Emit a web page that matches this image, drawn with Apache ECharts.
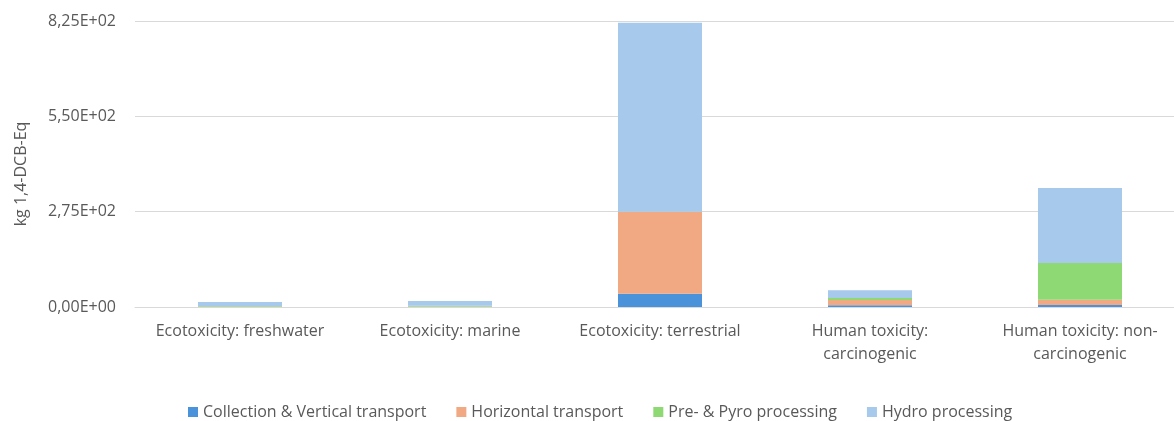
<!DOCTYPE html>
<html>
<head>
<meta charset="utf-8">
<script src="https://cdn.jsdelivr.net/npm/echarts@6/dist/echarts.min.js"></script>
<style>
  html, body { margin: 0; padding: 0; background: #fff; }
  #chart { width: 1174px; height: 421px; }
</style>
</head>
<body>
<div id="chart"></div>
<script>
// Impact categories (toxicity indicators)
const categories = [
  'Ecotoxicity: freshwater',
  'Ecotoxicity: marine',
  'Ecotoxicity: terrestrial',
  'Human toxicity:\ncarcinogenic',
  'Human toxicity: non-\ncarcinogenic'
];

// Contributions per process stage, kg 1,4-DCB-Eq
const collectionVertical = [0.5, 0.6, 38, 5, 6];
const horizontalTransport = [0.6, 0.7, 236, 15, 15];
const prePyroProcessing = [2, 2, 1, 6, 106];
const hydroProcessing = [11, 14, 545, 22, 216];

const seriesNames = [
  'Collection & Vertical transport',
  'Horizontal transport',
  'Pre- & Pyro processing',
  'Hydro processing'
];
const seriesColors = ['#4A92DA', '#F1A983', '#8ED973', '#A6C9EC'];
const seriesData = [collectionVertical, horizontalTransport, prePyroProcessing, hydroProcessing];

// Scientific notation with decimal comma, e.g. 8,25E+02
function sci(v) {
  const [m, e] = Number(v).toExponential(2).split('e');
  const exp = parseInt(e, 10);
  const sign = exp < 0 ? '-' : '+';
  const digits = String(Math.abs(exp)).padStart(2, '0');
  return m.replace('.', ',') + 'E' + sign + digits;
}

const fontFamily = '"Open Sans", "Liberation Sans", sans-serif';
const textColor = '#595959';
const chart = echarts.init(document.getElementById('chart'), null, { renderer: 'canvas' });

chart.setOption({
  animation: false,
  textStyle: { fontFamily: fontFamily },
  // the last category band runs slightly past the right edge of the canvas
  grid: {
    left: 135, width: 1050, top: 21, height: 286,
    containLabel: false, outerBoundsMode: 'none'
  },
  legend: {
    top: 404,
    left: 188,
    padding: 0,
    itemWidth: 10,
    itemHeight: 10,
    itemGap: 30,
    icon: 'rect',
    textStyle: { fontSize: 16, color: textColor, fontFamily: fontFamily },
    data: seriesNames
  },
  xAxis: {
    type: 'category',
    data: categories,
    axisLine: { lineStyle: { color: '#D9D9D9', width: 1 } },
    axisTick: { show: false },
    axisLabel: {
      color: textColor,
      fontSize: 16,
      margin: 13,
      lineHeight: 23,
      interval: 0
    }
  },
  yAxis: {
    type: 'value',
    min: 0,
    max: 825,
    interval: 275,
    name: 'kg 1,4-DCB-Eq',
    nameLocation: 'middle',
    nameGap: 106,
    nameTextStyle: { color: textColor, fontSize: 16, padding: [0, 20, 0, 0] },
    axisLine: { show: false },
    axisTick: { show: false },
    splitLine: { lineStyle: { color: '#D9D9D9', width: 1 } },
    axisLabel: {
      color: textColor,
      fontSize: 16,
      margin: 19,
      formatter: sci
    }
  },
  series: seriesNames.map((name, i) => ({
    name: name,
    type: 'bar',
    stack: 'total',
    barWidth: 84,
    itemStyle: { color: seriesColors[i] },
    emphasis: { disabled: true },
    data: seriesData[i]
  }))
});
</script>
</body>
</html>
